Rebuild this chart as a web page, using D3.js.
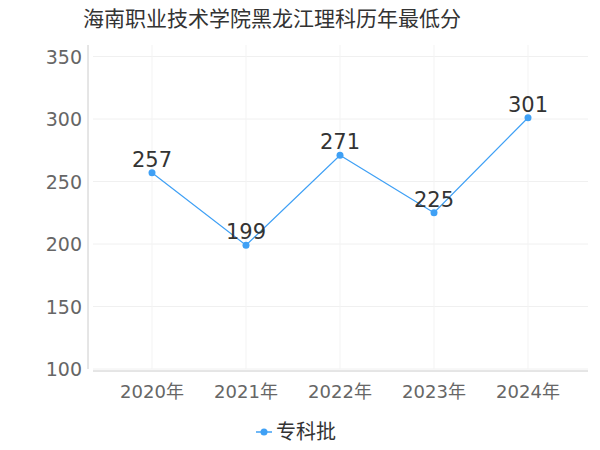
<!DOCTYPE html>
<html><head><meta charset="utf-8">
<script src="https://cdn.jsdelivr.net/npm/d3@7"></script>
<style>body{margin:0;background:#fff}text{font-family:"DejaVu Sans","Noto Sans CJK SC",sans-serif}</style>
</head><body><svg id="c" width="600" height="450"></svg>
<script>
const years = ["2020年","2021年","2022年","2023年","2024年"]
const scores = [257,199,271,225,301]
const yTicks = [100,150,200,250,300,350]

const svg = d3.select("#c")
const x = d3.scaleBand().domain(years).range([105,575])
const y = d3.scaleLinear().domain([100,350]).range([369,56.5])

svg.append("text").attr("x",83).attr("y",26).attr("font-size",21).attr("fill","#333").text("海南职业技术学院黑龙江理科历年最低分")

// grid
svg.selectAll(".gy").data(yTicks).enter().append("line")
  .attr("x1",93).attr("x2",588).attr("y1",d=>y(d)).attr("y2",d=>y(d)).attr("stroke","#f0f0f0")
svg.selectAll(".gx").data(years).enter().append("line")
  .attr("x1",d=>x(d)+x.bandwidth()/2).attr("x2",d=>x(d)+x.bandwidth()/2).attr("y1",45).attr("y2",369).attr("stroke","#f3f3f3")

// axes
svg.append("line").attr("x1",88).attr("x2",88).attr("y1",45).attr("y2",369).attr("stroke","#ccc")
svg.append("line").attr("x1",93).attr("x2",588).attr("y1",371).attr("y2",371).attr("stroke","#ccc")
svg.selectAll(".yl").data(yTicks).enter().append("text")
  .attr("x",82).attr("y",d=>y(d)+7).attr("text-anchor","end").attr("font-size",19).attr("fill","#666").text(d=>d)
svg.selectAll(".xl").data(years).enter().append("text")
  .attr("x",d=>x(d)+x.bandwidth()/2).attr("y",398).attr("text-anchor","middle").attr("font-size",18).attr("fill","#666").text(d=>d)

const line = d3.line().x((d,i)=>x(years[i])+x.bandwidth()/2).y(d=>y(d))
svg.append("path").datum(scores).attr("d",line).attr("fill","none").attr("stroke","#3fa0f5").attr("stroke-width",1.2)
svg.selectAll(".pt").data(scores).enter().append("circle")
  .attr("cx",(d,i)=>x(years[i])+x.bandwidth()/2).attr("cy",d=>y(d)).attr("r",3.5).attr("fill","#3fa0f5")
svg.selectAll(".lb").data(scores).enter().append("text")
  .attr("x",(d,i)=>x(years[i])+x.bandwidth()/2).attr("y",d=>y(d)-6).attr("text-anchor","middle")
  .attr("font-size",21).attr("fill","#333").text(d=>d)

// legend
svg.append("line").attr("x1",256).attr("x2",272).attr("y1",432).attr("y2",432).attr("stroke","#3fa0f5").attr("stroke-width",1.5)
svg.append("circle").attr("cx",264).attr("cy",432).attr("r",3.5).attr("fill","#3fa0f5")
svg.append("text").attr("x",276).attr("y",439).attr("font-size",20).attr("fill","#333").text("专科批")
</script></body></html>
